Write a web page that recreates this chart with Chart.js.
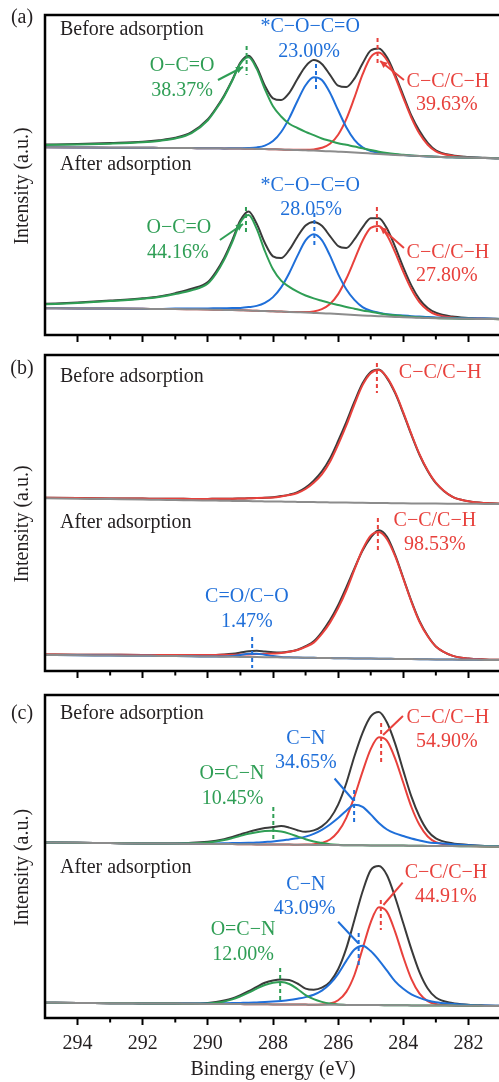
<!DOCTYPE html>
<html>
<head>
<meta charset="utf-8">
<script src="https://cdn.jsdelivr.net/npm/chart.js@4.4.0/dist/chart.umd.min.js"></script>
<style>
  html, body { margin: 0; padding: 0; background: #fff; overflow: hidden; }
  canvas { position: absolute; left: 0; }
</style>
</head>
<body>
<canvas id="panelA" width="501" height="350" style="top:0px"></canvas>
<canvas id="panelB" width="501" height="340" style="top:350px"></canvas>
<canvas id="panelC" width="501" height="392" style="top:690px"></canvas>
<script>
// binding energy grid (eV), shared by every curve
const energy = [295, 294, 293, 292, 291.5, 291, 290.5, 290, 289.75, 289.5, 289.25, 289, 288.75, 288.5, 288.25, 288,
  287.75, 287.5, 287.25, 287, 286.75, 286.5, 286.25, 286, 285.75, 285.5, 285.25, 285, 284.75, 284.5, 284.25, 284,
  283.75, 283.5, 283.25, 283, 282.5, 282, 281.5, 281];

const xMajor = [282, 284, 286, 288, 290, 292, 294];
const xMinor = [283, 285, 287, 289, 291, 293];

// (a) background, raw spectrum and fitted components (heights above background)
const aBeforeBg = [187.7, 187.5, 187.3, 187.2, 187.1, 187.0, 186.9, 186.8, 186.7, 186.6, 186.5, 186.4, 186.2, 186.1, 185.9, 185.7, 185.5, 185.2, 185.0, 184.7,
  184.4, 184.0, 183.7, 183.3, 182.9, 182.4, 182.0, 181.5, 181.0, 180.6, 180.1, 179.7, 179.3, 178.9, 178.6, 178.2, 177.7, 177.2, 176.9, 176.7];
const aBeforeRaw = [2.8, 3.4, 4.6, 6, 7.6, 10.2, 16, 29, 40, 53, 68.5, 86, 93, 82, 63.5, 51, 49.5, 57, 71, 84,
  90.5, 87, 76.5, 66, 65, 74, 89.5, 103, 105.5, 97, 80, 60, 40, 25, 13.5, 6.5, 2, 0.8, 0.3, 0];
const aBeforeOCO = [2.3, 3, 4, 5.5, 7, 9.5, 15, 28, 39, 52, 68, 85, 91.5, 80, 60, 43, 33, 26, 22, 18.5,
  15.5, 12.5, 10.5, 8.5, 7.3, 6, 4.8, 3.5, 2.3, 1.3, 0.8, 0.5, 0.3, 0.2, 0.1, 0, 0, 0, 0, 0];
const aBeforeCOC = [0, 0, 0, 0, 0, 0, 0, 0, 0, 0, 0.2, 0.4, 0.8, 1.5, 3.5, 8.2, 17.5, 31.7, 49, 65,
  73.3, 71, 58.6, 41.4, 24.9, 12.8, 5.6, 2.5, 1.2, 0.6, 0.3, 0.2, 0, 0, 0, 0, 0, 0, 0, 0];
const aBeforeCC = [0, 0, 0, 0, 0, 0, 0, 0, 0, 0, 0, 0, 0, 0, 0, 0, 0, 0, 0.2, 0.5,
  1.2, 3.2, 7.5, 17, 33, 55, 78.6, 96.4, 101.5, 94.2, 77.9, 57.5, 37.9, 22.3, 11.7, 5.5, 1.5, 0.4, 0.1, 0];

const aAfterBg = [26.7, 26.5, 26.4, 26.2, 26.0, 25.9, 25.7, 25.5, 25.3, 25.1, 24.9, 24.7, 24.5, 24.2, 24.0, 23.7, 23.4, 23.1, 22.8, 22.5,
  22.1, 21.7, 21.4, 21.0, 20.5, 20.1, 19.6, 19.2, 18.8, 18.4, 18.1, 17.7, 17.4, 17.2, 16.9, 16.7, 16.4, 16.2, 16.0, 15.8];
const aAfterRaw = [4.5, 6, 8, 10.5, 12.5, 16, 20.5, 27.5, 38, 52, 70, 90, 99, 87, 68, 55, 53.5, 62, 75.5, 87,
  91, 87.5, 77.5, 68, 66.5, 75.5, 88, 97.5, 98, 88, 70, 50, 32, 18.5, 10, 5.5, 2, 0.9, 0.5, 0.3];
const aAfterOCO = [4, 5.5, 7.5, 10, 12, 15, 19, 26, 36, 50, 68, 88, 95.5, 82, 60, 42, 31, 25, 20.5, 17,
  14.5, 12.5, 10.5, 9, 7.5, 6.2, 5, 4, 3, 2.2, 1.6, 1.1, 0.8, 0.5, 0.3, 0.2, 0, 0, 0, 0];
const aAfterCOC = [0, 0, 0, 0, 0, 0.5, 0.8, 1.1, 1.4, 1.7, 2, 2.4, 3.4, 4.9, 8.1, 14.2, 24.2, 38.9, 56.3, 72.2,
  78.7, 73.2, 58, 39.9, 25.3, 15, 8.3, 5, 3.5, 2.4, 2, 1.7, 1.4, 1.2, 1, 0.9, 0.7, 0.5, 0.4, 0.3];
const aAfterCC = [0, 0, 0, 0, 0, 0, 0, 0, 0, 0, 0, 0, 0, 0, 0, 0, 0, 0, 0.2, 0.5,
  1.5, 4.2, 9.6, 19.9, 35.7, 55, 74.7, 87.9, 90.2, 81.3, 64.6, 45.4, 28.2, 15.4, 8, 3.8, 1, 0.3, 0.1, 0];

// (b)
const bBeforeBg = [172.7, 172.3, 171.9, 171.5, 171.2, 171.0, 170.7, 170.5, 170.4, 170.2, 170.1, 170.0, 169.9, 169.7, 169.6, 169.5, 169.4, 169.2, 169.1, 169.0,
  168.9, 168.7, 168.6, 168.5, 168.4, 168.3, 168.2, 168.1, 168.0, 167.9, 167.8, 167.7, 167.6, 167.5, 167.5, 167.4, 167.3, 167.2, 167.1, 167.0];
const bBeforeRaw = [0.5, 0.6, 0.7, 0.9, 1, 1.2, 1.4, 1.6, 1.8, 2, 2.2, 2.5, 2.8, 3.2, 3.6, 4.3, 5.5, 7.2, 9.8, 14.5,
  21.5, 31, 44, 61.5, 80.5, 101, 119.5, 131, 133.5, 125, 110, 90, 68.5, 48.5, 32.5, 20.5, 7, 2.5, 0.8, 0.3];
const bBeforeCC = [0.5, 0.6, 0.7, 0.9, 1, 1.2, 1.4, 1.6, 1.8, 2, 2.2, 2.5, 2.8, 3.2, 3.6, 4.1, 5.2, 6.7, 8.9, 13,
  19.3, 27.9, 40.6, 57.9, 77.1, 98.4, 117.7, 129.7, 133, 125.8, 111, 91, 69.2, 49.1, 33, 21, 7, 2.5, 0.8, 0.3];

const bAfterBg = [16.0, 15.7, 15.5, 15.2, 15.1, 14.9, 14.7, 14.5, 14.4, 14.3, 14.2, 14.1, 14.0, 13.9, 13.8, 13.7, 13.6, 13.5, 13.4, 13.3,
  13.2, 13.0, 12.9, 12.8, 12.7, 12.6, 12.5, 12.4, 12.3, 12.2, 12.1, 12.0, 11.9, 11.8, 11.7, 11.6, 11.4, 11.3, 11.1, 11.0];
const bAfterRaw = [0.5, 0.6, 0.7, 0.9, 1, 1.1, 1.3, 1.5, 1.7, 2.2, 3, 4.3, 5.8, 6.4, 5.7, 5, 4.9, 5.9, 7.8, 11.5,
  16.5, 26, 38, 53, 71, 90, 108, 121, 128.5, 122, 104, 81, 58, 38, 23.5, 13, 4, 1.2, 0.5, 0.2];
const bAfterCO = [0, 0, 0, 0, 0, 0, 0, 0, 0, 0.3, 0.9, 2, 3.2, 3.4, 2.4, 1.2, 0.5, 0.2, 0, 0,
  0, 0, 0, 0, 0, 0, 0, 0, 0, 0, 0, 0, 0, 0, 0, 0, 0, 0, 0, 0];
const bAfterCC = [0.5, 0.6, 0.7, 0.9, 1, 1.1, 1.3, 1.5, 1.7, 1.9, 2.1, 2.3, 2.6, 3, 3.3, 3.8, 4.4, 5.7, 7.6, 10.9,
  15.2, 24.1, 35.5, 50.1, 67.8, 88.8, 109, 123, 126.7, 119.6, 102.7, 80.4, 57.3, 37.2, 23, 13, 4, 1.2, 0.5, 0.2];

// (c)
const cBeforeBg = [179.5, 179.2, 178.9, 178.6, 178.5, 178.4, 178.2, 178.1, 178.0, 177.9, 177.9, 177.8, 177.7, 177.6, 177.6, 177.5, 177.4, 177.4, 177.3, 177.2,
  177.1, 177.1, 177.0, 176.9, 176.8, 176.8, 176.7, 176.6, 176.5, 176.5, 176.4, 176.4, 176.3, 176.2, 176.1, 176.1, 175.9, 175.8, 175.6, 175.5];
const cBeforeRaw = [0, 0, 0, 0, 0, 0.3, 1, 2.2, 3.3, 5, 7.2, 9.8, 12.4, 14.6, 16.3, 17.5, 18.5, 17, 14.5, 13,
  14.5, 18.5, 26.5, 40.5, 62, 89, 112.5, 129, 133.5, 123, 102, 75, 49, 29, 15, 7.5, 2.8, 1.3, 0.5, 0.3];
const cBeforeOCN = [0, 0, 0, 0, 0, 0.2, 0.5, 1.5, 2.5, 4, 6, 8.3, 10.5, 12.2, 13.3, 13.7, 13, 11, 8.3, 5.6,
  3.4, 1.8, 0.8, 0.3, 0, 0, 0, 0, 0, 0, 0, 0, 0, 0, 0, 0, 0, 0, 0, 0];
const cBeforeCN = [0, 0, 0, 0, 0, 0, 0.3, 0.5, 0.6, 0.8, 1, 1.2, 1.5, 1.9, 2.4, 3, 4, 5.2, 6.5, 8.2,
  11, 15, 20.5, 27, 34.5, 40.5, 38.5, 31, 22.5, 16, 12.2, 9.6, 7.2, 5.4, 3.7, 2.8, 1.8, 1, 0.5, 0.3];
const cBeforeCC = [0, 0, 0, 0, 0, 0, 0, 0, 0, 0, 0, 0, 0, 0, 0, 0, 0, 0, 0, 0.2,
  0.7, 2.1, 5.5, 13.4, 27.4, 48.5, 73.7, 96.3, 108.2, 104.6, 87, 62.8, 38.7, 20.7, 9.4, 3.7, 0.8, 0.2, 0, 0];

const cAfterBg = [19.3, 19.1, 18.8, 18.6, 18.5, 18.4, 18.2, 18.1, 18.1, 18.0, 17.9, 17.9, 17.8, 17.8, 17.7, 17.6, 17.6, 17.5, 17.5, 17.4,
  17.3, 17.3, 17.2, 17.2, 17.1, 17.0, 17.0, 16.9, 16.9, 16.8, 16.7, 16.7, 16.6, 16.6, 16.5, 16.5, 16.4, 16.2, 16.1, 16.0];
const cAfterRaw = [0, 0, 0, 0, 0, 0, 0.2, 0.9, 1.8, 3.4, 5.7, 9, 13, 17.3, 21.5, 24, 25, 24.5, 21, 16,
  15, 17, 23, 35.5, 56.5, 85, 113.5, 135, 139, 130, 108, 82, 56, 33, 17, 8, 2.5, 1, 0.5, 0.2];
const cAfterOCN = [0, 0, 0, 0, 0, 0, 0, 0.4, 1.2, 2.6, 4.7, 7.8, 11.5, 15.5, 19.3, 21.6, 22.3, 20.5, 15.5, 9.5,
  5.5, 2.8, 1.2, 0.4, 0, 0, 0, 0, 0, 0, 0, 0, 0, 0, 0, 0, 0, 0, 0, 0];
const cAfterCN = [0, 0, 0, 0, 0, 0, 0.2, 0.5, 0.6, 0.8, 1, 1.2, 1.5, 1.8, 2.2, 2.8, 3.5, 4.5, 5.8, 7.5,
  10, 14, 21, 31, 44, 55.5, 59.3, 54, 45, 34.5, 24, 16.5, 11, 7.5, 5, 3.3, 1.8, 0.8, 0.4, 0.2];
const cAfterCC = [0, 0, 0, 0, 0, 0, 0, 0, 0, 0, 0, 0, 0, 0, 0, 0, 0, 0, 0, 0,
  0, 0.3, 1.2, 4.5, 13, 30, 56.2, 82.8, 97.8, 93.3, 73.5, 48.3, 26.3, 11.8, 4.4, 1.4, 0.1, 0, 0, 0];

// peak positions (eV) and component labels
const aBeforePeaks = [288.81, 286.68, 284.79];
const aAfterPeaks = [288.83, 286.73, 284.81];
const bBeforePeaks = [284.81];
const bAfterPeaks = [288.64, 284.78];
const cBeforePeaks = [287.99, 285.51, 284.68];
const cAfterPeaks = [287.78, 285.37, 284.69];

const aNames = ['O\u2212C=O', '*C\u2212O\u2212C=O', 'C\u2212C/C\u2212H'];
const aBeforeShare = ['38.37%', '23.00%', '39.63%'];
const aAfterShare = ['44.16%', '28.05%', '27.80%'];
const bNames = ['C=O/C\u2212O', 'C\u2212C/C\u2212H'];
const bAfterShare = ['1.47%', '98.53%'];
const cNames = ['O=C\u2212N', 'C\u2212N', 'C\u2212C/C\u2212H'];
const cBeforeShare = ['10.45%', '34.65%', '54.90%'];
const cAfterShare = ['12.00%', '43.09%', '44.91%'];

const GREEN = '#2f9e55', BLUE = '#1f6fd9', RED = '#e8413c', DARK = '#3a3a3a', GRAY = '#8c8c8c', INK = '#231f20';
const FONT = '"Liberation Serif", "Times New Roman", serif';

function line(vals, color, order) {
  return {
    data: vals.map((y, i) => ({ x: energy[i], y: y })),
    borderColor: color, borderWidth: 2, pointRadius: 0, fill: false,
    cubicInterpolationMode: 'monotone', order: order
  };
}

// raw data at the back, fitted peaks over it, the background line on top
function spectrum(bg, raw, parts) {
  const sets = [line(raw.map((h, i) => bg[i] + h), DARK, 3), line(bg, GRAY, 1)];
  parts.forEach(p => sets.push(line(p[0].map((h, i) => bg[i] + h), p[1], 2)));
  return sets;
}

function mark(e, top, bottom, color) {
  return {
    data: [{ x: e, y: top }, { x: e, y: bottom }],
    borderColor: color, borderWidth: 2, borderDash: [4, 3], pointRadius: 0, tension: 0, order: 0
  };
}

function decorFor(p) {
  return {
    id: 'decor',
    afterDatasetsDraw(chart) {
      const { ctx, chartArea: a, scales: { x, y } } = chart;
      ctx.save();
      ctx.strokeStyle = '#000';
      ctx.lineWidth = 2.5;
      ctx.strokeRect(a.left, a.top, a.right - a.left, a.bottom - a.top);
      ctx.lineWidth = 2;
      xMinor.forEach(t => {
        const px = x.getPixelForValue(t);
        ctx.beginPath(); ctx.moveTo(px, a.bottom); ctx.lineTo(px, a.bottom + 4.5); ctx.stroke();
      });
      ctx.font = '20px ' + FONT;
      ctx.textBaseline = 'middle';
      p.texts.forEach(t => {
        ctx.fillStyle = t.c || INK;
        ctx.textAlign = t.left ? 'left' : 'center';
        ctx.fillText(t.t, x.getPixelForValue(t.e), y.getPixelForValue(t.v));
      });
      p.leaders.forEach(l => {
        const x1 = x.getPixelForValue(l[0]), y1 = y.getPixelForValue(l[1]);
        const x2 = x.getPixelForValue(l[2]), y2 = y.getPixelForValue(l[3]);
        ctx.strokeStyle = l[4]; ctx.fillStyle = l[4]; ctx.lineWidth = 2;
        ctx.beginPath(); ctx.moveTo(x1, y1); ctx.lineTo(x2, y2); ctx.stroke();
        if (p.heads) {
          const ang = Math.atan2(y2 - y1, x2 - x1), L = 7, W = 3.5;
          ctx.beginPath();
          ctx.moveTo(x2, y2);
          ctx.lineTo(x2 - L * Math.cos(ang) + W * Math.sin(ang), y2 - L * Math.sin(ang) - W * Math.cos(ang));
          ctx.lineTo(x2 - L * Math.cos(ang) - W * Math.sin(ang), y2 - L * Math.sin(ang) + W * Math.cos(ang));
          ctx.closePath(); ctx.fill();
        }
      });
      ctx.fillStyle = INK;
      ctx.textAlign = 'center';
      ctx.fillText(p.letter, 22, p.letterY);
      ctx.translate(23, (a.top + a.bottom) / 2 + 11);
      ctx.rotate(-Math.PI / 2);
      ctx.fillText('Intensity (a.u.)', 0, 0);
      ctx.restore();
    }
  };
}

function panel(p) {
  let datasets = [];
  p.spectra.forEach(s => { datasets = datasets.concat(spectrum(s[0], s[1], s[2])); });
  p.marks.forEach(m => datasets.push(mark(m[0], m[1], m[2], m[3])));
  new Chart(document.getElementById(p.id), {
    type: 'line',
    data: { datasets: datasets },
    options: {
      responsive: false,
      animation: false,
      devicePixelRatio: 1,
      layout: { padding: { top: p.top, left: 0, right: 0, bottom: 0 } },
      plugins: { legend: { display: false }, tooltip: { enabled: false } },
      scales: {
        x: {
          type: 'linear', min: 281, max: 295, reverse: true,
          afterBuildTicks: s => { s.ticks = xMajor.map(v => ({ value: v })); },
          afterFit: s => { s.height = p.axisH; },
          grid: { drawOnChartArea: false, drawTicks: true, tickLength: 7, tickWidth: 2, tickColor: '#000' },
          border: { display: false },
          ticks: { display: p.labels, padding: 7, color: INK, font: { family: FONT, size: 20 } },
          title: { display: p.labels, text: 'Binding energy (eV)', color: INK, padding: 0, font: { family: FONT, size: 20 } }
        },
        y: {
          min: p.yMin, max: p.yMax,
          afterFit: s => { s.width = 45; },
          grid: { display: false },
          border: { display: false },
          ticks: { display: false }
        }
      }
    },
    plugins: [decorFor(p)]
  });
}

panel({
  id: 'panelA', letter: '(a)', letterY: 18, top: 15, axisH: 15, yMin: 0, yMax: 320, labels: false, heads: true,
  spectra: [
    [aBeforeBg, aBeforeRaw, [[aBeforeOCO, GREEN], [aBeforeCOC, BLUE], [aBeforeCC, RED]]],
    [aAfterBg, aAfterRaw, [[aAfterOCO, GREEN], [aAfterCOC, BLUE], [aAfterCC, RED]]]
  ],
  marks: [
    [aBeforePeaks[0], 289, 260, GREEN], [aBeforePeaks[1], 271, 246, BLUE], [aBeforePeaks[2], 297, 269, RED],
    [aAfterPeaks[0], 128, 100, GREEN], [aAfterPeaks[1], 122, 87, BLUE], [aAfterPeaks[2], 128, 100, RED]
  ],
  texts: [
    { t: 'Before adsorption', e: 294.54, v: 305, left: true },
    { t: aNames[0], e: 290.79, v: 269, c: GREEN }, { t: aBeforeShare[0], e: 290.79, v: 244, c: GREEN },
    { t: aNames[1], e: 286.86, v: 308, c: BLUE }, { t: aBeforeShare[1], e: 286.89, v: 283.5, c: BLUE },
    { t: aNames[2], e: 282.63, v: 253.5, c: RED }, { t: aBeforeShare[2], e: 282.66, v: 230, c: RED },
    { t: 'After adsorption', e: 294.54, v: 170, left: true },
    { t: aNames[1], e: 286.86, v: 149.7, c: BLUE }, { t: aAfterShare[1], e: 286.83, v: 125, c: BLUE },
    { t: aNames[0], e: 290.89, v: 107, c: GREEN }, { t: aAfterShare[0], e: 290.92, v: 82, c: GREEN },
    { t: aNames[2], e: 282.63, v: 82, c: RED }, { t: aAfterShare[2], e: 282.66, v: 59, c: RED }
  ],
  leaders: [
    [289.69, 255, 288.92, 268, GREEN], [283.98, 255, 284.71, 274, RED],
    [289.63, 95, 288.92, 111, GREEN], [283.98, 87, 284.71, 108, RED]
  ]
});

panel({
  id: 'panelB', letter: '(b)', letterY: 19, top: 5, axisH: 19, yMin: 0, yMax: 316, labels: false, heads: false,
  spectra: [
    [bBeforeBg, bBeforeRaw, [[bBeforeCC, RED]]],
    [bAfterBg, bAfterRaw, [[bAfterCO, BLUE], [bAfterCC, RED]]]
  ],
  marks: [
    [bBeforePeaks[0], 308, 278, RED],
    [bAfterPeaks[0], 34, 3, BLUE], [bAfterPeaks[1], 153, 121, RED]
  ],
  texts: [
    { t: 'Before adsorption', e: 294.54, v: 294, left: true },
    { t: bNames[1], e: 282.87, v: 298.5, c: RED },
    { t: 'After adsorption', e: 294.54, v: 148.5, left: true },
    { t: bNames[1], e: 283.03, v: 150, c: RED }, { t: bAfterShare[1], e: 283.03, v: 126, c: RED },
    { t: bNames[0], e: 288.80, v: 74.3, c: BLUE }, { t: bAfterShare[0], e: 288.80, v: 49.3, c: BLUE }
  ],
  leaders: []
});

panel({
  id: 'panelC', letter: '(c)', letterY: 24, top: 5, axisH: 64, yMin: 4, yMax: 327, labels: true, heads: false,
  spectra: [
    [cBeforeBg, cBeforeRaw, [[cBeforeOCN, GREEN], [cBeforeCN, BLUE], [cBeforeCC, RED]]],
    [cAfterBg, cAfterRaw, [[cAfterOCN, GREEN], [cAfterCN, BLUE], [cAfterCC, RED]]]
  ],
  marks: [
    [cBeforePeaks[0], 215, 182, GREEN], [cBeforePeaks[1], 232, 200, BLUE], [cBeforePeaks[2], 299, 257, RED],
    [cAfterPeaks[0], 54, 20, GREEN], [cAfterPeaks[1], 89, 54, BLUE], [cAfterPeaks[2], 122, 92, RED]
  ],
  texts: [
    { t: 'Before adsorption', e: 294.54, v: 308, left: true },
    { t: cNames[2], e: 282.63, v: 304.5, c: RED }, { t: cBeforeShare[2], e: 282.66, v: 280, c: RED },
    { t: cNames[1], e: 286.99, v: 283, c: BLUE }, { t: cBeforeShare[1], e: 286.99, v: 259.5, c: BLUE },
    { t: cNames[0], e: 289.26, v: 247.8, c: GREEN }, { t: cBeforeShare[0], e: 289.24, v: 223, c: GREEN },
    { t: 'After adsorption', e: 294.54, v: 154.5, left: true },
    { t: cNames[2], e: 282.69, v: 149.5, c: RED }, { t: cAfterShare[2], e: 282.69, v: 125.3, c: RED },
    { t: cNames[1], e: 286.99, v: 137, c: BLUE }, { t: cAfterShare[1], e: 287.03, v: 113.7, c: BLUE },
    { t: cNames[0], e: 288.92, v: 92, c: GREEN }, { t: cAfterShare[0], e: 288.92, v: 67, c: GREEN }
  ],
  leaders: [
    [284.01, 306, 284.62, 287, RED], [286.11, 243.5, 285.54, 222, BLUE],
    [284.02, 139.3, 284.61, 117, RED], [286.0, 100.3, 285.38, 78.7, BLUE]
  ]
});
</script>
</body>
</html>
